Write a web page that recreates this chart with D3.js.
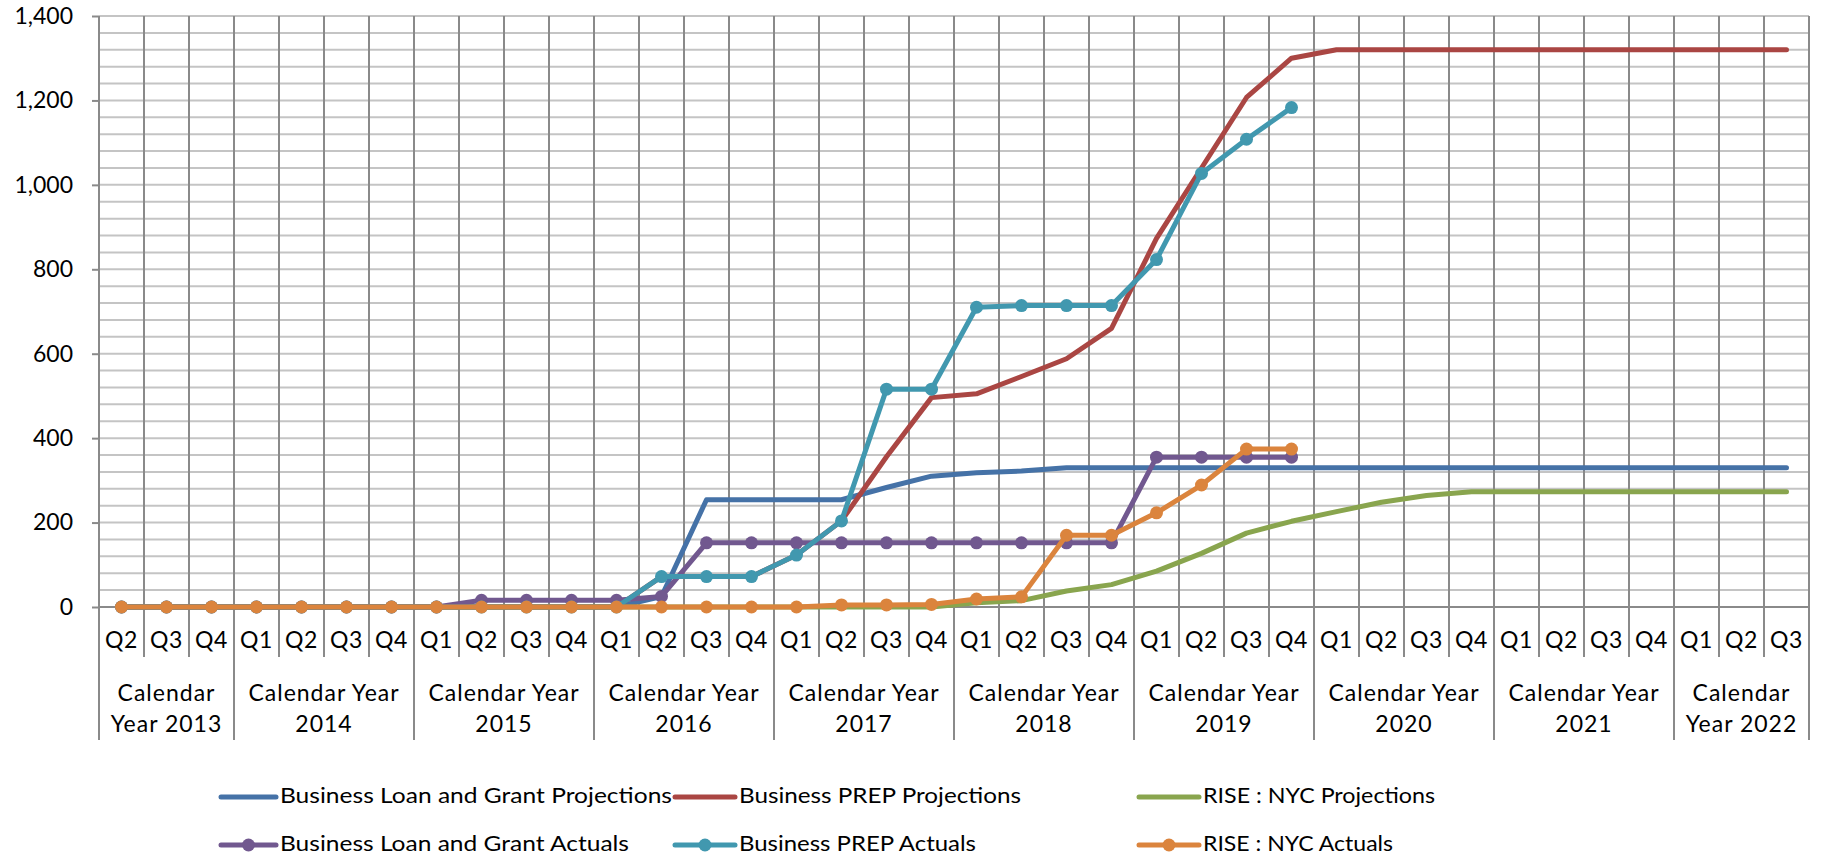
<!DOCTYPE html>
<html>
<head>
<meta charset="utf-8">
<script src="https://cdn.jsdelivr.net/npm/d3@7"></script>
<style>
  body { margin: 0; background: #fff; }
  svg { display: block; }
  text { font-family: Lato, "Liberation Sans", sans-serif; fill: #000; }
</style>
</head>
<body>
<svg id="chart" width="1826" height="859"></svg>
<script>
// ---------------- DATA ----------------
const yearLabels = [
  "Calendar Year 2013", "Calendar Year 2014", "Calendar Year 2015", "Calendar Year 2016",
  "Calendar Year 2017", "Calendar Year 2018", "Calendar Year 2019", "Calendar Year 2020",
  "Calendar Year 2021", "Calendar Year 2022"
];
const yearQuarters = [
  ["Q2", "Q3", "Q4"],
  ["Q1", "Q2", "Q3", "Q4"],
  ["Q1", "Q2", "Q3", "Q4"],
  ["Q1", "Q2", "Q3", "Q4"],
  ["Q1", "Q2", "Q3", "Q4"],
  ["Q1", "Q2", "Q3", "Q4"],
  ["Q1", "Q2", "Q3", "Q4"],
  ["Q1", "Q2", "Q3", "Q4"],
  ["Q1", "Q2", "Q3", "Q4"],
  ["Q1", "Q2", "Q3"]
];
const yTicks = [0, 200, 400, 600, 800, 1000, 1200, 1400];

const seriesNames = [
  "Business Loan and Grant Projections",
  "Business PREP Projections",
  "RISE : NYC Projections",
  "Business Loan and Grant Actuals",
  "Business PREP Actuals",
  "RISE : NYC Actuals"
];

//                         2013        2014           2015            2016             2017               2018               2019                   2020                 2021                 2022
const loanGrantProj = [0, 0, 0,   0, 0, 0, 0,   0, 0, 0, 0,     0, 25, 254, 254,   254, 254, 283, 310,   318, 322, 330, 330,   330, 330, 330, 330,    330, 330, 330, 330,   330, 330, 330, 330,   330, 330, 330];
const prepProj      = [0, 0, 0,   0, 0, 0, 0,   0, 0, 0, 0,     0, 72, 72, 72,     123, 204, 356, 496,   505, 546, 588, 660,   873, 1040, 1207, 1300, 1320, 1320, 1320, 1320, 1320, 1320, 1320, 1320, 1320, 1320, 1320];
const riseProj      = [0, 0, 0,   0, 0, 0, 0,   0, 0, 0, 0,     0, 0, 0, 0,        0, 0, 0, 0,           10, 15, 38, 53,       85, 127, 175, 203,     226, 248, 264, 273,   273, 273, 273, 273,   273, 273, 273];
const loanGrantAct  = [0, 0, 0,   0, 0, 0, 0,   0, 16, 16, 16,  16, 25, 152, 152,  152, 152, 152, 152,   152, 152, 152, 152,   355, 355, 355, 355];
const prepAct       = [0, 0, 0,   0, 0, 0, 0,   0, 0, 0, 0,     0, 72, 72, 72,     123, 204, 516, 516,   710, 714, 714, 714,   823, 1027, 1108, 1183];
const riseAct       = [0, 0, 0,   0, 0, 0, 0,   0, 0, 0, 0,     0, 0, 0, 0,        0, 5, 5, 6,           19, 24, 170, 170,     223, 289, 374, 374];

// ---------------- STYLE / LAYOUT ----------------
const seriesValues = [loanGrantProj, prepProj, riseProj, loanGrantAct, prepAct, riseAct];
const seriesColors = ["#4572A7", "#AA4643", "#89A54E", "#71588F", "#4198AF", "#DB843D"];
const seriesMarkers = [false, false, false, true, true, true];

const svg = d3.select("#chart");
const plot = { left: 99, right: 1809, top: 16, bottom: 607 };
const qSepBottom = 657, ySepBottom = 740;

const categories = yearQuarters.flatMap((qs, i) => qs.map(q => yearLabels[i] + " " + q));
const x = d3.scaleBand().domain(categories).range([plot.left, plot.right]).padding(0);
const y = d3.scaleLinear().domain([0, 1400]).range([plot.bottom, plot.top]);
const cx = c => x(c) + x.bandwidth() / 2;

svg.append("rect").attr("width", 1826).attr("height", 859).attr("fill", "#fff");

// horizontal (minor) gridlines every 40
const grid = svg.append("g");
grid.selectAll("line.h")
  .data(d3.range(0, 1400 + 1, 40))
  .join("line")
  .attr("x1", plot.left).attr("x2", plot.right)
  .attr("y1", d => y(d)).attr("y2", d => y(d))
  .attr("stroke", "#c4c4c4").attr("stroke-width", 2);

// vertical gridlines at category boundaries
const boundaries = categories.map(c => x(c)).concat([plot.right]);
grid.selectAll("line.v")
  .data(boundaries)
  .join("line")
  .attr("x1", d => d).attr("x2", d => d)
  .attr("y1", plot.top).attr("y2", qSepBottom)
  .attr("stroke", "#8a8a8a").attr("stroke-width", 2);

// year separators (longer)
let start = 0;
const yearStarts = [];
yearQuarters.forEach((qs, i) => { yearStarts.push({ i, s: start, e: start + qs.length }); start += qs.length; });
const yearBounds = yearStarts.map(d => x(categories[d.s])).concat([plot.right]);
grid.selectAll("line.yb")
  .data(yearBounds)
  .join("line")
  .attr("x1", d => d).attr("x2", d => d)
  .attr("y1", plot.bottom).attr("y2", ySepBottom)
  .attr("stroke", "#8a8a8a").attr("stroke-width", 2);

// y axis
const yAxis = svg.append("g")
  .attr("transform", `translate(${plot.left},0)`)
  .call(d3.axisLeft(y).tickValues(yTicks).tickFormat(d3.format(",")).tickSize(7).tickPadding(19));
yAxis.select(".domain").remove();
yAxis.selectAll(".tick line").attr("stroke", "#8a8a8a").attr("stroke-width", 2);
yAxis.selectAll(".tick text")
  .style("font-family", "Lato, 'Liberation Sans', sans-serif")
  .style("font-size", "23px").attr("fill", "#000");

// axis line at zero
svg.append("line")
  .attr("x1", plot.left).attr("x2", plot.right)
  .attr("y1", y(0)).attr("y2", y(0))
  .attr("stroke", "#8a8a8a").attr("stroke-width", 2);

// quarter labels
svg.append("g").selectAll("text")
  .data(categories)
  .join("text")
  .attr("x", d => cx(d))
  .attr("y", 642)
  .attr("text-anchor", "middle")
  .attr("dominant-baseline", "middle")
  .style("font-size", "23px")
  .style("letter-spacing", "0.5px")
  .text(d => d.split(" ").pop());

// year labels with wrapping
const yg = svg.append("g");
yearStarts.forEach(d => {
  const x0 = x(categories[d.s]);
  const x1 = d.e < categories.length ? x(categories[d.e]) : plot.right;
  const maxW = (x1 - x0) - 6;
  const words = yearLabels[d.i].split(" ");
  const probe = yg.append("text").style("font-size", "23px").style("letter-spacing", "1px");
  const lines = [];
  let cur = [];
  words.forEach(w => {
    const test = cur.concat([w]).join(" ");
    probe.text(test);
    if (probe.node().getComputedTextLength() > maxW && cur.length) {
      lines.push(cur.join(" "));
      cur = [w];
    } else cur.push(w);
  });
  lines.push(cur.join(" "));
  probe.remove();
  const ys = lines.length === 1 ? [710] : [695, 726];
  lines.forEach((ln, k) => {
    yg.append("text")
      .attr("x", (x0 + x1) / 2)
      .attr("y", ys[k])
      .attr("text-anchor", "middle")
      .attr("dominant-baseline", "middle")
      .style("font-size", "23px")
      .style("letter-spacing", "1px")
      .text(ln);
  });
});

// series
const line = d3.line()
  .defined(d => d != null)
  .x(d => cx(categories[d.i]))
  .y(d => y(d.v));

seriesValues.forEach((vals, s) => {
  const pts = vals.map((v, i) => ({ i, v }));
  const g = svg.append("g");
  g.append("path")
    .datum(pts)
    .attr("d", line)
    .attr("fill", "none")
    .attr("stroke", seriesColors[s])
    .attr("stroke-width", 5)
    .attr("stroke-linejoin", "round")
    .attr("stroke-linecap", "round");
  if (seriesMarkers[s]) {
    g.selectAll("circle")
      .data(pts)
      .join("circle")
      .attr("cx", d => cx(categories[d.i]))
      .attr("cy", d => y(d.v))
      .attr("r", 6.5)
      .attr("fill", seriesColors[s]);
  }
});

// legend
const legendPos = [
  { lx: 221, tx: 280, y: 797, w: 392 },
  { lx: 675, tx: 739, y: 797, w: 282 },
  { lx: 1139, tx: 1203, y: 797, w: 232 },
  { lx: 221, tx: 280, y: 845, w: 349 },
  { lx: 675, tx: 739, y: 845, w: 237 },
  { lx: 1139, tx: 1203, y: 845, w: 190 }
];
const lg = svg.append("g");
seriesNames.forEach((name, s) => {
  const p = legendPos[s];
  const x2 = p.tx - 4;
  lg.append("line")
    .attr("x1", p.lx).attr("x2", x2)
    .attr("y1", p.y).attr("y2", p.y)
    .attr("stroke", seriesColors[s]).attr("stroke-width", 5)
    .attr("stroke-linecap", "round");
  if (seriesMarkers[s]) {
    lg.append("circle")
      .attr("cx", (p.lx + x2) / 2).attr("cy", p.y).attr("r", 6.5)
      .attr("fill", seriesColors[s]);
  }
  lg.append("text")
    .attr("x", p.tx).attr("y", p.y)
    .attr("dominant-baseline", "middle")
    .attr("textLength", p.w)
    .attr("lengthAdjust", "spacingAndGlyphs")
    .style("font-size", "22px")
    .text(name);
});
</script>
</body>
</html>
